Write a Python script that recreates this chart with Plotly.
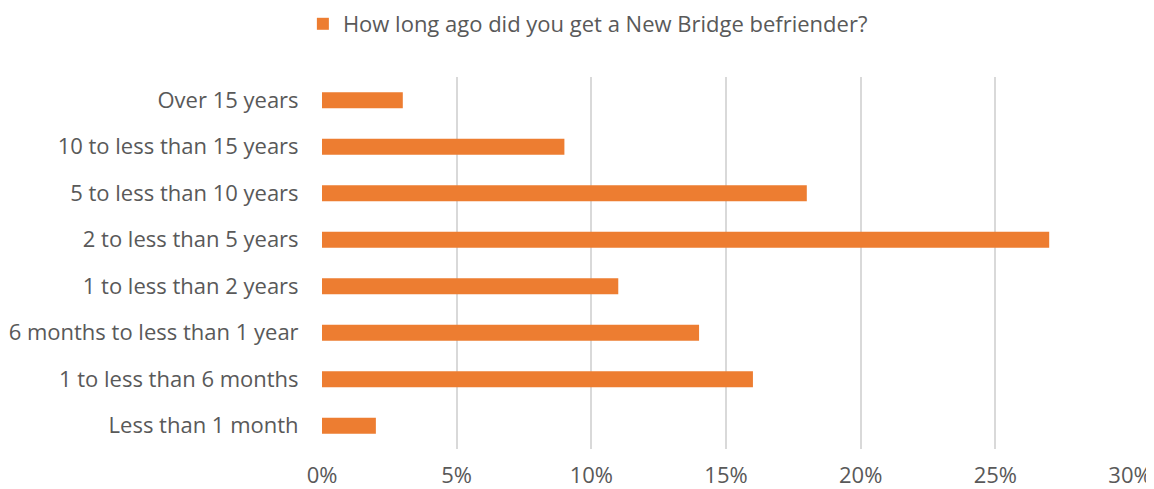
import plotly.graph_objects as go

categories = ["Less than 1 month", "1 to less than 6 months", "6 months to less than 1 year",
              "1 to less than 2 years", "2 to less than 5 years", "5 to less than 10 years",
              "10 to less than 15 years", "Over 15 years"]
values = [0.02, 0.16, 0.14, 0.11, 0.27, 0.18, 0.09, 0.03]
series_name = "How long ago did you get a New Bridge befriender?"
tick_vals = [0, 0.05, 0.10, 0.15, 0.20, 0.25, 0.30]
tick_text = ["0%", "5%", "10%", "15%", "20%", "25%", "30%"]

FONT = "Open Sans"
GRAY = "#595959"
FS = 22

fig = go.Figure(go.Bar(
    y=categories, x=values, orientation="h", name=series_name,
    marker=dict(color="#ED7D31", line=dict(width=0)),
    showlegend=True,
))
# the page body adds an 8px offset, so the figure is sized to 1146x481
fig.update_layout(
    width=1146, height=481,
    margin=dict(l=314, r=24, t=69, b=40, autoexpand=False),
    paper_bgcolor="white", plot_bgcolor="white",
    bargap=0.66,
    font=dict(family=FONT, size=FS, color=GRAY),
    legend=dict(orientation="h", x=0.506, xref="container", xanchor="center",
                y=1.1425, yref="paper", yanchor="middle", font=dict(size=FS, color=GRAY),
                itemwidth=30),
    xaxis=dict(range=[0, 0.30], tickvals=tick_vals, ticktext=tick_text, automargin=False,
               showgrid=True, gridcolor="#D9D9D9", gridwidth=1.5, zeroline=False,
               showline=False, ticks="outside", ticklen=7, tickcolor="rgba(0,0,0,0)",
               tickfont=dict(size=FS, color=GRAY)),
    yaxis=dict(showgrid=False, ticks="outside", ticklen=18, tickcolor="rgba(0,0,0,0)",
               automargin=False, tickfont=dict(size=FS, color=GRAY)),
)
fig.write_html("out.html")
